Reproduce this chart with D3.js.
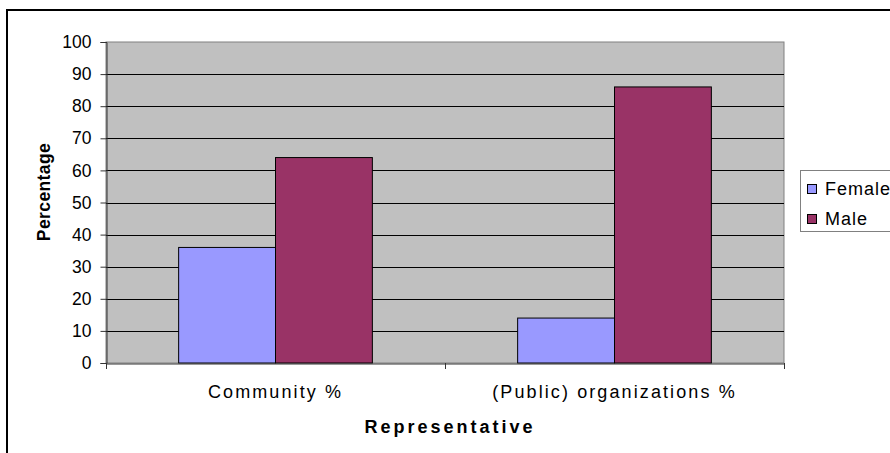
<!DOCTYPE html>
<html>
<head>
<meta charset="utf-8">
<script src="https://cdn.jsdelivr.net/npm/d3@7"></script>
<style>
  html, body { margin: 0; padding: 0; background: #fff; }
  svg { display: block; font-family: "Liberation Sans", Arial, sans-serif; }
</style>
</head>
<body>
<svg id="chart" width="890" height="453"></svg>
<script>
// Share of representatives by gender
const categories = ["Community %", "(Public) organizations %"];
const seriesNames = ["Female", "Male"];
const femaleValues = [36, 14];
const maleValues = [64, 86];
const yTicks = [0, 10, 20, 30, 40, 50, 60, 70, 80, 90, 100];
const seriesColors = ["#9999FF", "#993366"];

const svg = d3.select("#chart");

// Chart frame
svg.append("rect")
  .attr("x", 7).attr("y", 10)
  .attr("width", 900).attr("height", 500)
  .attr("fill", "#fff").attr("stroke", "#000").attr("stroke-width", 2);

const plot = { left: 106, right: 784, top: 42, bottom: 363 };

const x0 = d3.scaleBand().domain(categories).range([plot.left, plot.right]).padding(0);
const x1 = d3.scaleBand().domain(seriesNames).range([0, x0.bandwidth()])
  .paddingInner(0).paddingOuter(0.75);
const y = d3.scaleLinear().domain([0, 100]).range([plot.bottom, plot.top]);

// Plot background
svg.append("rect")
  .attr("x", plot.left).attr("y", plot.top)
  .attr("width", plot.right - plot.left).attr("height", plot.bottom - plot.top)
  .attr("fill", "#C0C0C0").attr("stroke", "#808080").attr("stroke-width", 1);

// Horizontal gridlines
svg.append("g")
  .selectAll("line")
  .data(yTicks.filter(t => t > 0 && t < 100))
  .join("line")
  .attr("x1", plot.left).attr("x2", plot.right)
  .attr("y1", d => Math.round(y(d)) + 0.5).attr("y2", d => Math.round(y(d)) + 0.5)
  .attr("stroke", "#000").attr("stroke-width", 1);

// Bars
const rows = categories.map((c, i) => ({ category: c, values: [femaleValues[i], maleValues[i]] }));
const groups = svg.append("g")
  .selectAll("g")
  .data(rows)
  .join("g")
  .attr("transform", d => `translate(${x0(d.category)},0)`);

groups.selectAll("rect")
  .data(d => d.values.map((v, j) => ({ series: seriesNames[j], value: v, color: seriesColors[j] })))
  .join("rect")
  .attr("x", d => x1(d.series))
  .attr("y", d => y(d.value))
  .attr("width", x1.bandwidth())
  .attr("height", d => y(0) - y(d.value))
  .attr("fill", d => d.color)
  .attr("stroke", "#000").attr("stroke-width", 1);

// Y axis
const yAxis = svg.append("g")
  .attr("transform", `translate(${plot.left + 0.5},0)`)
  .call(d3.axisLeft(y).tickValues(yTicks).tickSize(6).tickPadding(9));
yAxis.select(".domain").attr("stroke", "#333");
yAxis.selectAll(".tick line").attr("stroke", "#333");
yAxis.selectAll(".tick text")
  .attr("font-size", 17.5).attr("fill", "#000")
  .attr("font-family", "'Liberation Sans', Arial, sans-serif");

// X axis
const xAxis = svg.append("g")
  .attr("transform", `translate(0,${plot.bottom + 0.5})`)
  .call(d3.axisBottom(x0).tickSize(0).tickPadding(22));
xAxis.select(".domain").attr("stroke", "#333");
xAxis.selectAll(".tick text")
  .attr("font-size", 18).attr("fill", "#000")
  .attr("letter-spacing", "2.1px")
  .attr("font-family", "'Liberation Sans', Arial, sans-serif");

// Category separator ticks
const sepTicks = [plot.left, x0(categories[1]), plot.right];
svg.append("g")
  .selectAll("line")
  .data(sepTicks)
  .join("line")
  .attr("x1", d => Math.round(d) + 0.5).attr("x2", d => Math.round(d) + 0.5)
  .attr("y1", plot.bottom).attr("y2", plot.bottom + 6)
  .attr("stroke", "#333");

// Axis titles
svg.append("text")
  .attr("x", 450).attr("y", 433)
  .attr("text-anchor", "middle")
  .attr("font-size", 18).attr("font-weight", "bold")
  .attr("letter-spacing", "3px")
  .text("Representative");

svg.append("text")
  .attr("transform", "translate(50,192) rotate(-90)")
  .attr("text-anchor", "middle")
  .attr("font-size", 17.5).attr("font-weight", "bold")
  .attr("letter-spacing", "0.4px")
  .text("Percentage");

// Legend
const legend = svg.append("g");
legend.append("rect")
  .attr("x", 800.5).attr("y", 170.5)
  .attr("width", 120).attr("height", 61)
  .attr("fill", "#fff").attr("stroke", "#808080");

const legendItems = legend.selectAll("g.item")
  .data(seriesNames)
  .join("g")
  .attr("class", "item")
  .attr("transform", (d, i) => `translate(0,${i * 30})`);

legendItems.append("rect")
  .attr("x", 807.5).attr("y", 184.5)
  .attr("width", 9).attr("height", 9)
  .attr("fill", (d, i) => seriesColors[i])
  .attr("stroke", "#000");

legendItems.append("text")
  .attr("x", 825).attr("y", 194.5)
  .attr("font-size", 18)
  .attr("letter-spacing", "1px")
  .text(d => d);
</script>
</body>
</html>
